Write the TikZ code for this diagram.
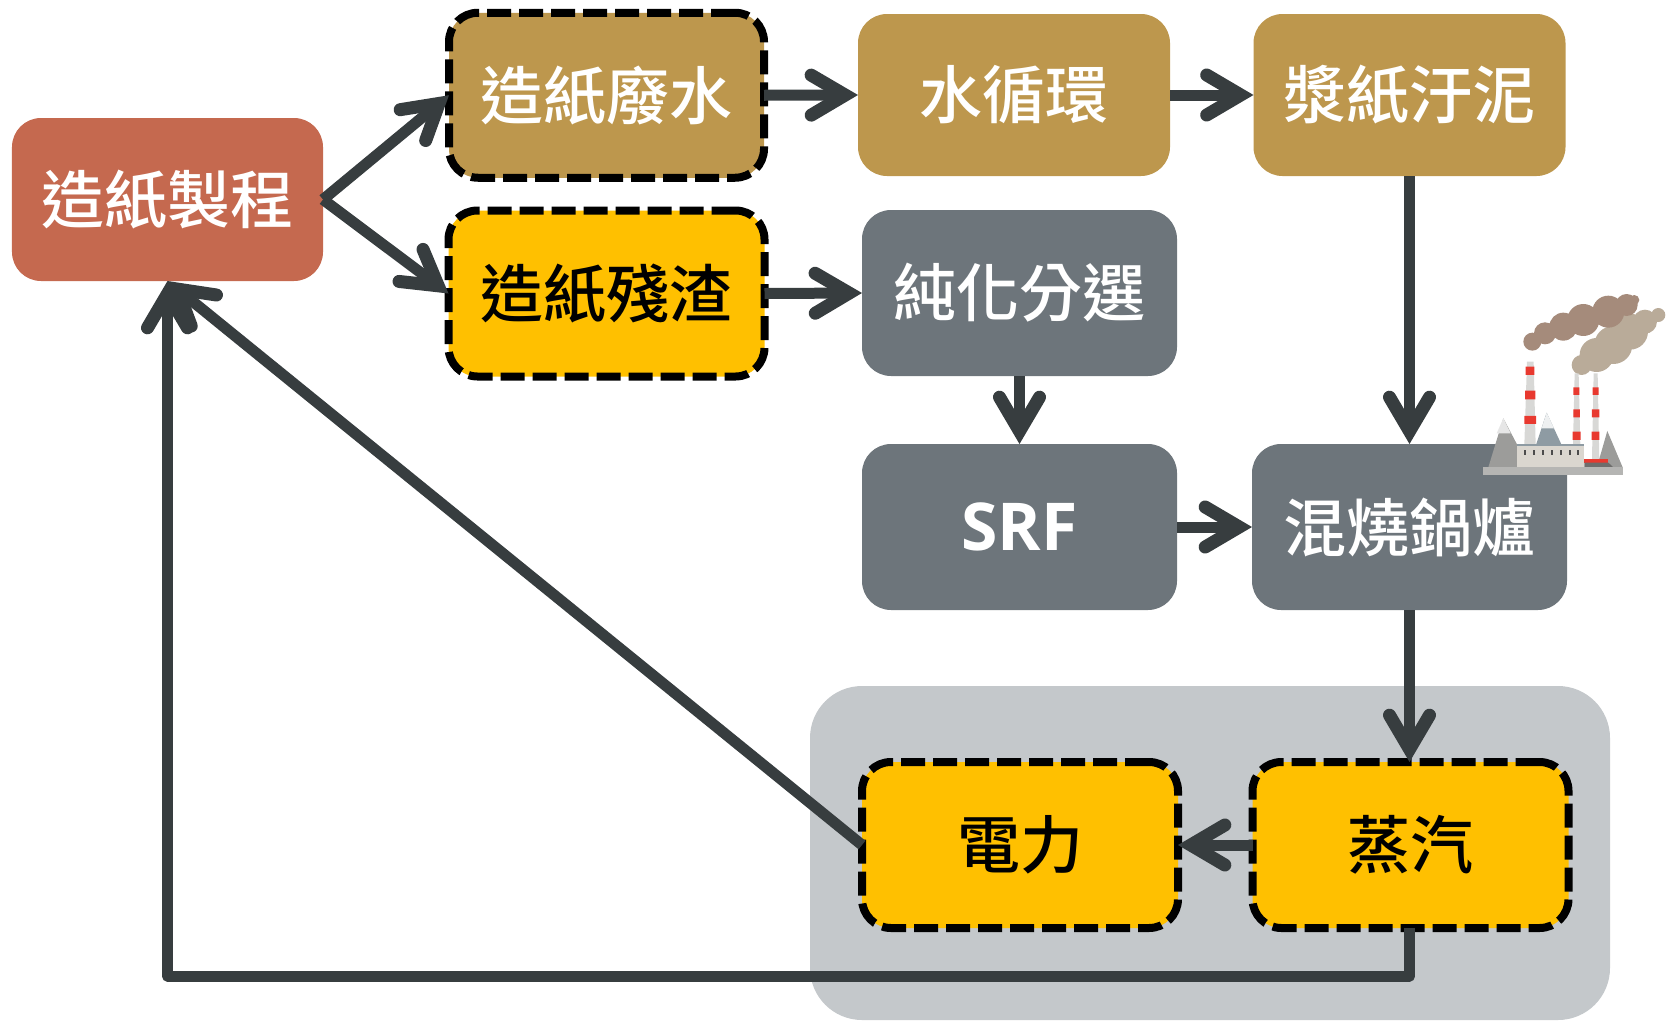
\documentclass[tikz,border=0pt]{standalone}
\usepackage{fontspec}
\usetikzlibrary{arrows.meta}
\newfontfamily\cjkfont{Noto Sans CJK TC Medium}
\newfontfamily\srffont{Open Sans}
\definecolor{linecol}{HTML}{373D3F}
\definecolor{redbox}{HTML}{C5694F}
\definecolor{tanbox}{HTML}{BD974D}
\definecolor{yelbox}{HTML}{FFC000}
\definecolor{grybox}{HTML}{6D757B}
\definecolor{bgbox}{HTML}{C4C8CB}
\definecolor{cloudA}{HTML}{A58B7B}
\definecolor{cloudB}{HTML}{B9AB99}
\definecolor{stack}{HTML}{D8D8D6}
\definecolor{band}{HTML}{E8392F}
\definecolor{mtA}{HTML}{9C9C9A}
\definecolor{mtB}{HTML}{8E9BA3}
\definecolor{bld}{HTML}{DAD6CF}
\definecolor{plate}{HTML}{B5B5B3}
\tikzset{
  boxbase/.style={rectangle,rounded corners=29bp,inner sep=0pt,outer sep=0pt,font=\cjkfont\fontsize{63bp}{70bp}\selectfont,text=white},
  redstyle/.style={boxbase,fill=redbox,minimum width=311bp,minimum height=163bp},
  tanstyle/.style={boxbase,fill=tanbox,minimum width=312bp,minimum height=162bp},
  grystyle/.style={boxbase,fill=grybox,minimum width=315bp,minimum height=166bp},
  dashbox/.style={draw=black,line width=8bp,dash pattern=on 24bp off 8bp,line cap=butt},
  tandash/.style={boxbase,dashbox,fill=tanbox,minimum width=315bp,minimum height=165bp},
  yeldash/.style={boxbase,dashbox,fill=yelbox,text=black,minimum width=316bp,minimum height=166bp},
  conn/.style={draw=linecol,line width=11bp,line join=round,-{Straight Barb[length=34bp,width=40bp,line width=13bp,line cap=round,line join=miter]}},
}
\begin{document}
\begin{tikzpicture}[x=1bp,y=-1bp]
\useasboundingbox (0,0) rectangle (1666,1022);
\fill[bgbox,rounded corners=52bp] (810,686) rectangle (1610,1020);
\node[redstyle] (proc) at (167.5,199.5) {造紙製程};
\node[tandash] (waste) at (606.5,95.25) {造紙廢水};
\node[yeldash] (resid) at (606.5,293.5) {造紙殘渣};
\node[tanstyle] (water) at (1014,95) {水循環};
\node[tanstyle] (sludge) at (1409.5,95) {漿紙汙泥};
\node[grystyle] (sort) at (1019.5,293) {純化分選};
\node[grystyle,font=\srffont\bfseries\fontsize{66bp}{70bp}\selectfont] (srf) at (1019.5,527) {\raisebox{-5bp}{SRF}};
\node[grystyle] (boiler) at (1409.5,527) {混燒鍋爐};
\node[yeldash] (power) at (1020,845) {電力};
\node[yeldash] (steam) at (1410.5,845) {蒸汽};
\coordinate (bend) at (1409.5,976);
\draw[conn] (proc.east) -- (waste.west);
\draw[conn] (proc.east) -- (resid.west);
\draw[conn] (waste.east) -- (water.west);
\draw[conn] (water.east) -- (sludge.west);
\draw[conn] (resid.east) -- (sort.west);
\draw[conn] (sort.south) -- (srf.north);
\draw[conn] (srf.east) -- (boiler.west);
\draw[conn] (sludge.south) -- (boiler.north);
\draw[conn] (boiler.south) -- (boiler.south |- steam.north);
\draw[conn] (steam.west) -- (power.east);
\draw[conn] (power.west) -- (proc.south);
\draw[conn] (bend |- steam.south) -- (bend) -| (proc.south);
% factory
\begin{scope}[shift={(1400,270)},x=0.3333bp,y=-0.3333bp]
  \fill[cloudB] (545,285) circle (10bp) (590,255) circle (17bp) (640,225) circle (19bp) (690,185) circle (18bp) (735,155) circle (12bp) (775,135) circle (7bp);
  \fill[cloudA] (397,215) circle (9bp) (435,190) circle (11bp) (490,170) circle (14bp) (550,150) circle (16bp) (625,125) circle (16bp) (680,105) circle (11bp) (703,90) circle (5bp);
  \fill[stack] (381,275) -- (401,275) -- (407,525) -- (373,525) -- cycle;
  \fill[stack] (524,310) -- (536,310) -- (541,525) -- (519,525) -- cycle;
  \fill[stack] (581,310) -- (593,310) -- (598,570) -- (576,570) -- cycle;
  \fill[band] (377,290) rectangle (403,315) (375,362) rectangle (406,388) (373,438) rectangle (408,462);
  \fill[band] (520,352) rectangle (538,375) (520,418) rectangle (540,442) (518,485) rectangle (542,510);
  \fill[band] (578,352) rectangle (596,375) (576,418) rectangle (598,442) (575,485) rectangle (598,510);
  \fill[mtB] (408,525) -- (440,428) -- (485,525) -- cycle;
  \fill[white!85!mtB] (425,475) -- (440,428) -- (462,475) -- cycle;
  \fill[mtA] (265,592) -- (310,445) -- (352,525) -- (352,592) -- cycle;
  \fill[white!75!mtA] (290,490) -- (310,445) -- (332,490) -- cycle;
  \fill[mtA] (597,592) -- (597,570) -- (622,483) -- (668,592) -- cycle;
  \fill[bld] (352,525) rectangle (553,592);
  \fill[mtB] (352,523) rectangle (553,529);
  \foreach \wx in {372,400,426,453,480,506,530} \fill[black!70] (\wx,541) rectangle (\wx+6,555);
  \fill[band] (553,568) rectangle (625,578);
  \fill[mtA!70!black] (553,592) -- (553,578) -- (625,578) -- (640,592) -- cycle;
  \fill[plate] (248,592) rectangle (670,615);
\end{scope}
\end{tikzpicture}
\end{document}
